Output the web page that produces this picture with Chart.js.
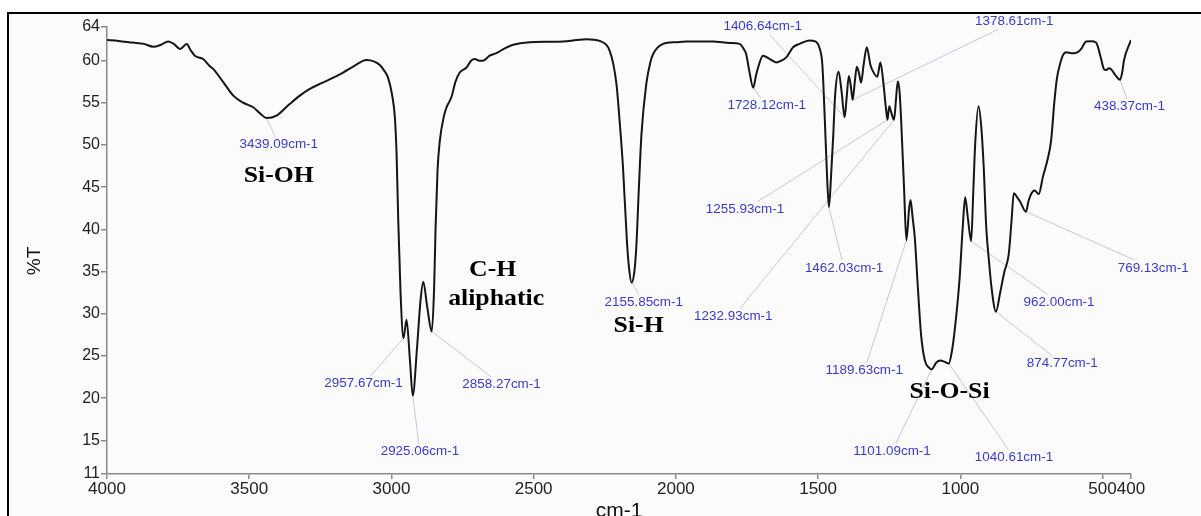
<!DOCTYPE html>
<html>
<head>
<meta charset="utf-8">
<script src="https://cdn.jsdelivr.net/npm/chart.js@4.4.1/dist/chart.umd.min.js"></script>
<style>
    html, body { margin: 0; padding: 0; background: #fff; overflow: hidden; }
    #frame {
        position: absolute; left: 7px; top: 12px; width: 1220px; height: 540px;
        border-left: 2px solid #000; border-top: 2px solid #000; background: #fbfbfb;
    }
    #ftir { position: absolute; left: 0; top: 0; }
</style>
</head>
<body>
<div id="frame"></div>
<canvas id="ftir" width="1201" height="516"></canvas>
<script>
// FTIR spectrum, wavenumber (cm-1) vs transmittance (%T)
const wavenumbers = [
    4000, 3960, 3910, 3870, 3837, 3810, 3785, 3765, 3743, 3720,
    3705, 3690, 3662, 3640, 3626, 3590, 3556, 3520, 3486, 3460,
    3439.09, 3404, 3360, 3322, 3290, 3252, 3210, 3170, 3130, 3088,
    3060, 3041, 3025, 3012, 2998, 2988, 2982, 2976, 2968, 2957.67,
    2947, 2935, 2925.06, 2910, 2898, 2888, 2875, 2858.27, 2850, 2845,
    2838, 2830, 2815, 2806, 2789, 2775, 2760, 2736, 2720, 2707,
    2690, 2678, 2655, 2631, 2600, 2572, 2514, 2450, 2397, 2350,
    2314, 2268, 2245, 2233, 2220, 2209, 2197, 2186, 2172, 2165,
    2155.85, 2146, 2139, 2130, 2121, 2104, 2090, 2080, 2045, 2000,
    1963, 1870, 1810, 1776, 1760, 1753, 1742, 1728.12, 1718, 1711,
    1694, 1670, 1647, 1630, 1612, 1588, 1565, 1530, 1510, 1495,
    1485, 1477, 1470, 1462.03, 1455, 1447, 1440, 1428, 1418, 1406.64,
    1400, 1392, 1385, 1378.61, 1371, 1364, 1356, 1349, 1340, 1329,
    1316, 1308, 1292, 1281, 1270, 1262, 1255.93, 1250, 1244, 1232.93,
    1226, 1220, 1214, 1208, 1198, 1189.63, 1180, 1175, 1168, 1160,
    1150, 1138, 1125, 1110, 1101.09, 1085, 1070, 1055, 1040.61, 1030,
    1020, 1003, 992, 983, 974, 962, 955, 948, 936, 926,
    918, 909, 900, 890, 874.77, 860, 845, 830, 820, 812,
    800, 790, 769.13, 760, 751, 739, 724, 710, 694, 681,
    669, 660, 651, 640, 628, 610, 599, 575, 565, 558,
    540, 523, 515, 505, 495, 487, 478, 470, 455, 438.37,
    430, 425, 400
];
const transmittance = [
    62.45, 62.35, 62.15, 62.0, 61.65, 61.9, 62.28, 62.0, 61.38, 61.97,
    61.2, 60.55, 60.2, 59.4, 59.0, 57.4, 55.86, 55.0, 54.48, 53.7,
    53.2, 53.5, 54.8, 55.86, 56.6, 57.25, 57.9, 58.6, 59.4, 60.08,
    59.9, 59.5, 58.8, 58.0, 56.0, 53.3, 49, 41, 32.5, 27.1,
    29.3, 24.5, 20.3, 26, 31.5, 33.8, 31, 27.9, 33, 40,
    47, 50.5, 53.5, 54.5, 55.7, 57.5, 58.6, 59.2, 60.0, 60.2,
    60.0, 60.0, 60.6, 60.9, 61.5, 61.9, 62.2, 62.25, 62.28, 62.45,
    62.56, 62.36, 61.9, 61.2, 59.6, 57.25, 52.5, 47.4, 38.5, 35.5,
    33.7, 35.0, 38.0, 45, 51.3, 57.25, 59.8, 60.8, 62.0, 62.2,
    62.28, 62.28, 62.1, 62.0, 61.3, 60.8, 58.8, 56.8, 58.3, 59.2,
    60.6, 60.2, 59.8, 60.0, 60.4, 61.6, 62.0, 62.4, 62.3, 61.5,
    59.5, 53.5, 47.5, 42.65, 46, 51, 56, 58.7, 56.5, 53.3,
    55.5, 58.2, 57.0, 55.35, 57.5, 59.3, 58.5, 57.4, 59.5, 61.6,
    59.5, 58.8, 58.1, 59.8, 57.2, 54.5, 53.0, 54.6, 54.0, 53.0,
    55.5, 57.55, 56.5, 52.9, 45, 38.7, 42.5, 43.5, 41.5, 39,
    33.5, 27.5, 24.5, 23.6, 23.4, 24.2, 24.45, 24.3, 24.1, 25.5,
    28, 34.0, 40.0, 43.8, 41.5, 38.6, 44, 50, 54.6, 52,
    47.5, 40.3, 36.5, 33, 30.25, 32.5, 35.0, 37.0, 41, 44.3,
    43.8, 43.3, 42.1, 43.4, 44.2, 44.6, 44.2, 46.2, 48.2, 50.5,
    55.3, 58, 59.4, 60.6, 61.0, 60.9, 60.9, 61.4, 62.0, 62.28,
    62.3, 62.16, 61.5, 60.2, 59.0, 58.9, 59.1, 59.0, 58.3, 57.75,
    58.8, 60.0, 62.45
];

const xTicks = [4000, 3500, 3000, 2500, 2000, 1500, 1000, 500, 400];
const yTicks = [64, 60, 55, 50, 45, 40, 35, 30, 25, 20, 15, 11];

// picked peaks and where their labels sit (wavenumber, %T)
const peaks = [3439.09, 2957.67, 2925.06, 2858.27, 2155.85, 1728.12, 1406.64, 1378.61, 1255.93,
    1232.93, 1462.03, 1189.63, 1101.09, 1040.61, 962.00, 874.77, 769.13, 438.37];
const peakLabelAt = [
    [3396, 50.07], [3098, 21.67], [2900, 13.63], [2613, 21.58], [2113, 31.36], [1681, 54.65],
    [1695, 64.02], [810.6, 64.65], [1757, 42.35], [1798, 29.66], [1408.6, 35.38], [1337.7, 23.27],
    [1240, 13.70], [811.3, 12.92], [653, 31.36], [641.6, 24.07], [322, 35.38], [405.5, 54.56]
];

// band assignments
const bandNames = ['Si-OH', 'C-H', 'aliphatic', 'Si-H', 'Si-O-Si'];
const bandAt = [[3396, 46.32], [2644, 35.18], [2632, 31.71], [2131, 28.56], [1038, 20.67]];

const SANS = '"Liberation Sans", Arial, sans-serif';
const SERIF = '"Liberation Serif", "Times New Roman", serif';

function stretchedText(ctx, text, x, y, sx) {
    ctx.save();
    ctx.translate(x, y);
    ctx.scale(sx, 1);
    ctx.fillText(text, 0, 0);
    ctx.restore();
}

const peakNotes = {
    id: 'peakNotes',
    beforeDatasetsDraw(chart) {
        const { ctx, scales: { x, y } } = chart;
        ctx.save();
        ctx.font = '12px ' + SANS;
        ctx.strokeStyle = '#c6c6dc';
        ctx.lineWidth = 1;
        peaks.forEach((wn, i) => {
            const idx = wavenumbers.indexOf(wn);
            const px = x.getPixelForValue(wn);
            const py = y.getPixelForValue(transmittance[idx]);
            const cx = x.getPixelForValue(peakLabelAt[i][0]);
            const cy = y.getPixelForValue(peakLabelAt[i][1]);
            const hw = ctx.measureText(wn.toFixed(2) + 'cm-1').width * 1.12 / 2;
            const hh = 8;
            const dx = px - cx, dy = py - cy;
            const t = Math.min(dx ? hw / Math.abs(dx) : Infinity, dy ? hh / Math.abs(dy) : Infinity);
            ctx.beginPath();
            ctx.moveTo(cx + dx * t, cy + dy * t);
            ctx.lineTo(px, py);
            ctx.stroke();
        });
        ctx.restore();
    },
    afterDatasetsDraw(chart) {
        const { ctx, scales: { x, y } } = chart;
        ctx.save();
        ctx.textAlign = 'center';
        ctx.textBaseline = 'middle';

        ctx.fillStyle = '#3b3bc6';
        ctx.font = '12px ' + SANS;
        peaks.forEach((wn, i) => {
            stretchedText(ctx, wn.toFixed(2) + 'cm-1',
                x.getPixelForValue(peakLabelAt[i][0]), y.getPixelForValue(peakLabelAt[i][1]), 1.12);
        });

        ctx.fillStyle = '#000';
        ctx.font = 'bold 23px ' + SERIF;
        bandNames.forEach((name, i) => {
            stretchedText(ctx, name, x.getPixelForValue(bandAt[i][0]), y.getPixelForValue(bandAt[i][1]), 1.12);
        });

        // axis titles
        ctx.fillStyle = '#111';
        ctx.font = '19px ' + SANS;
        ctx.save();
        ctx.translate(35, 261);
        ctx.rotate(-Math.PI / 2);
        ctx.fillText('%T', 0, 0);
        ctx.restore();
        ctx.textBaseline = 'alphabetic';
        ctx.font = '21px ' + SANS;
        ctx.fillText('cm-1', (chart.chartArea.left + chart.chartArea.right) / 2, 517);
        ctx.restore();
    }
};

const canvas = document.getElementById('ftir');
new Chart(canvas.getContext('2d'), {
    type: 'line',
    data: {
        datasets: [{
            data: wavenumbers.map((wn, i) => ({ x: wn, y: transmittance[i] })),
            borderColor: '#151515',
            borderWidth: 2,
            pointRadius: 0,
            cubicInterpolationMode: 'monotone',
            fill: false,
        }],
    },
    options: {
        responsive: false,
        animation: false,
        devicePixelRatio: 1,
        layout: { padding: { top: 27, right: 70, left: 0, bottom: 0 } },
        plugins: { legend: { display: false }, tooltip: { enabled: false } },
        scales: {
            x: {
                type: 'linear',
                reverse: true,
                min: 400,
                max: 4000,
                afterBuildTicks: (s) => { s.ticks = xTicks.map((v) => ({ value: v })); },
                afterFit: (s) => { s.height = 42; },
                grid: { drawOnChartArea: false, tickLength: 5, color: '#8a8a8a', lineWidth: 1.5 },
                border: { color: '#8a8a8a', width: 1.5 },
                ticks: {
                    autoSkip: false, maxRotation: 0, padding: 0, color: '#222',
                    font: { size: 17, family: SANS },
                    callback: (v) => String(v),
                },
            },
            y: {
                min: 11,
                max: 64,
                afterBuildTicks: (s) => { s.ticks = yTicks.map((v) => ({ value: v })); },
                afterFit: (s) => { s.width = 107; },
                grid: { drawOnChartArea: false, tickLength: 6, color: '#8a8a8a', lineWidth: 1.5 },
                border: { color: '#8a8a8a', width: 1.5 },
                ticks: {
                    autoSkip: false, padding: 1, color: '#222',
                    font: { size: 16, family: SANS },
                    callback: (v) => String(v),
                },
            },
        },
    },
    plugins: [peakNotes],
});
</script>
</body>
</html>
